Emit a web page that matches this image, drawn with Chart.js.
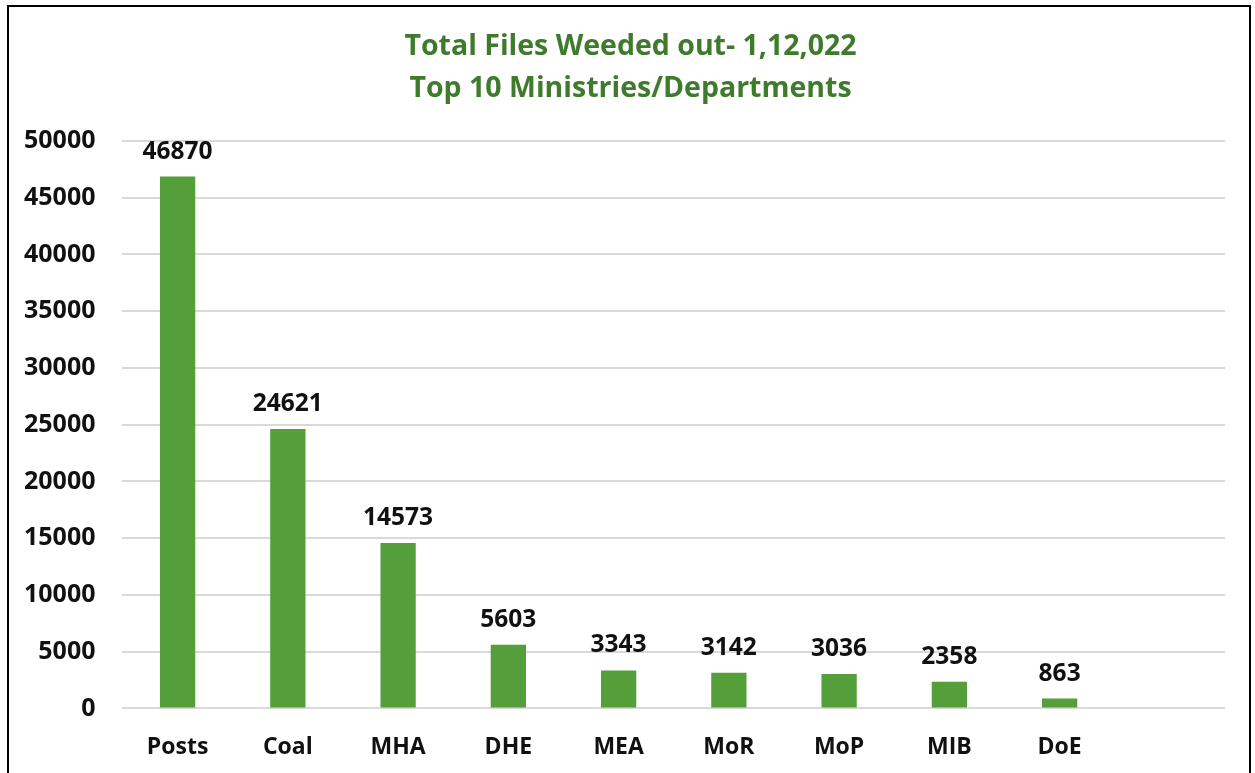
<!DOCTYPE html>
<html>
<head>
  <title>Total Files Weeded out</title>
  <script src="https://cdn.jsdelivr.net/npm/chart.js"></script>
  <style>
    body { margin: 0; background: #fff; overflow: hidden; }
    #frame { position: absolute; left: 7px; top: 5px; width: 1244px; height: 820px; border: 2px solid #000; box-sizing: border-box; }
    canvas { position: absolute; left: 0; top: 0; }
  </style>
</head>
<body>
  <div id="frame"></div>
  <canvas id="myChart" width="1255" height="802"></canvas>

  <script>
    const categories = ['Posts', 'Coal', 'MHA', 'DHE', 'MEA', 'MoR', 'MoP', 'MIB', 'DoE', ''];
    const filesWeeded = [46870, 24621, 14573, 5603, 3343, 3142, 3036, 2358, 863, null];
    const titleLines = ['Total Files Weeded out- 1,12,022', 'Top 10 Ministries/Departments'];

    const fontFamily = '"Open Sans", "DejaVu Sans", sans-serif';

    // value labels above each bar
    const barLabels = {
      id: 'barLabels',
      afterDatasetsDraw(chart) {
        const ctx = chart.ctx;
        const meta = chart.getDatasetMeta(0);
        ctx.save();
        ctx.font = 'bold 24.5px ' + fontFamily;
        ctx.fillStyle = '#111';
        ctx.textAlign = 'center';
        ctx.textBaseline = 'alphabetic';
        meta.data.forEach((bar, i) => {
          const v = filesWeeded[i];
          if (v == null) return;
          ctx.fillText(String(v), bar.x, bar.y - 18);
        });
        ctx.restore();
      }
    };

    // two-line title, centred on the whole frame rather than the plot
    const frameTitle = {
      id: 'frameTitle',
      afterDraw(chart) {
        const ctx = chart.ctx;
        ctx.save();
        ctx.font = 'bold 28.5px ' + fontFamily;
        ctx.fillStyle = '#3e7b2c';
        ctx.textAlign = 'center';
        ctx.textBaseline = 'middle';
        titleLines.forEach((line, i) => {
          ctx.fillText(line, chart.width / 2 + 3, 47 + i * 42);
        });
        ctx.restore();
      }
    };

    let ctx = document.getElementById('myChart').getContext('2d');
    let myChart = new Chart(ctx, {
      type: 'bar',
      data: {
        labels: categories,
        datasets: [{
          data: filesWeeded,
          backgroundColor: '#559f3b',
          barPercentage: 0.32,
          categoryPercentage: 1
        }]
      },
      options: {
        responsive: false,
        animation: false,
        layout: { padding: { left: -3, right: 30, top: 141, bottom: 16 } },
        plugins: {
          legend: { display: false },
          tooltip: { enabled: false },
          title: { display: false }
        },
        scales: {
          x: {
            grid: { display: false, drawTicks: false, tickLength: 0 },
            border: { display: false },
            ticks: {
              color: '#111',
              font: { family: fontFamily, size: 23, weight: 'bold' },
              padding: 25
            }
          },
          y: {
            min: 0,
            max: 50000,
            grid: { color: '#d9d9d9', lineWidth: 2, drawTicks: false, tickLength: 0 },
            border: { display: false },
            ticks: {
              stepSize: 5000,
              color: '#111',
              font: { family: fontFamily, size: 25, weight: 'bold' },
              padding: 27,
              callback: (v) => String(v)
            }
          }
        }
      },
      plugins: [barLabels, frameTitle]
    });
  </script>
</body>
</html>
